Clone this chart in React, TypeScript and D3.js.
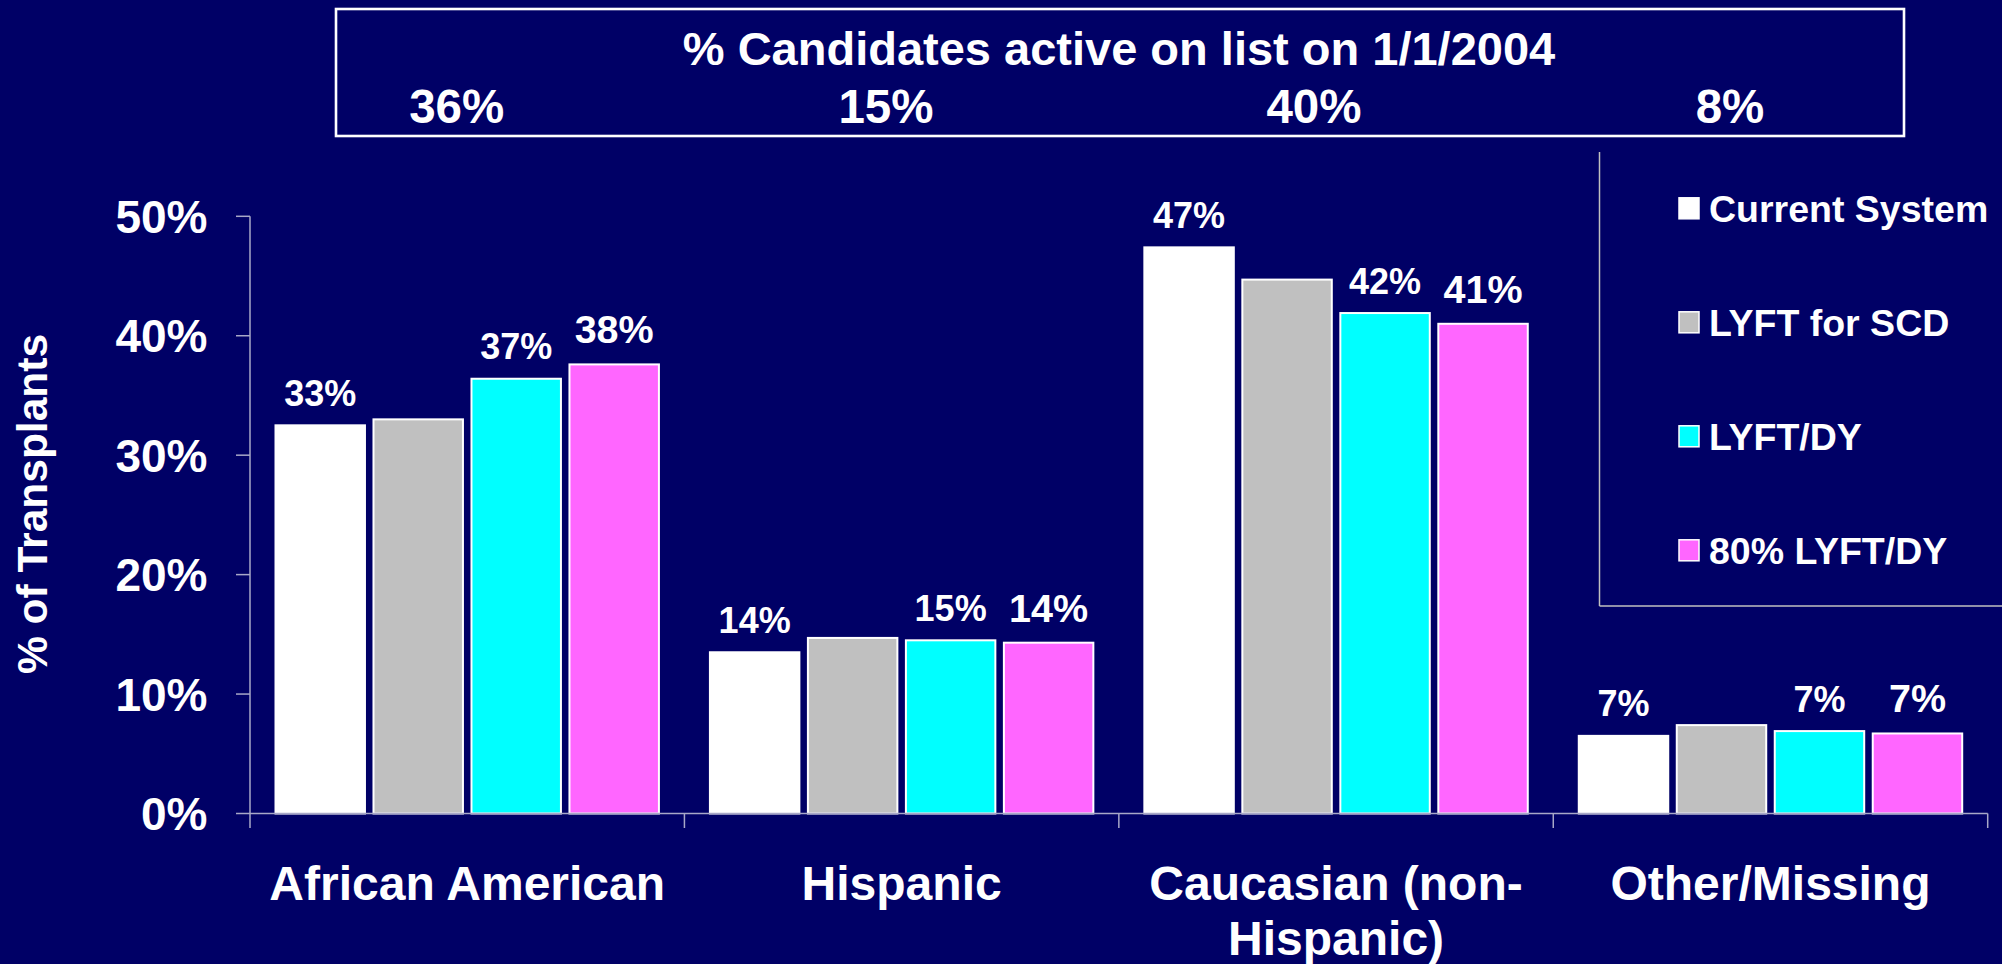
import React from "react";
import * as d3 from "d3";

const categories = ["African American", "Hispanic", "Caucasian (non-Hispanic)", "Other/Missing"];
const categoryLines = [["African American"], ["Hispanic"], ["Caucasian (non-", "Hispanic)"], ["Other/Missing"]];
const seriesNames = ["Current System", "LYFT for SCD", "LYFT/DY", "80% LYFT/DY"];
const seriesColors = ["#FFFFFF", "#C0C0C0", "#00FFFF", "#FF66FF"];

const currentSystem = [32.5, 13.5, 47.4, 6.5];
const lyftForScd = [33.0, 14.7, 44.7, 7.4];
const lyftDy = [36.4, 14.5, 41.9, 6.9];
const lyft80Dy = [37.6, 14.3, 41.0, 6.7];

const labelsCurrent = ["33%", "14%", "47%", "7%"];
const labelsScd: (string | null)[] = [null, null, null, null];
const labelsDy = ["37%", "15%", "42%", "7%"];
const labels80 = ["38%", "14%", "41%", "7%"];

const activeOnList = ["36%", "15%", "40%", "8%"];
const yTicks = [0, 10, 20, 30, 40, 50];

const seriesValues = [currentSystem, lyftForScd, lyftDy, lyft80Dy];
const seriesLabels = [labelsCurrent, labelsScd, labelsDy, labels80];

const W = 2002;
const H = 964;
const BG = "#000066";
const FONT = "'Liberation Sans', Arial, Helvetica, sans-serif";
const AXIS = "#A8A8C8";

export default function App() {
  const x0 = d3.scaleBand<string>().domain(categories).range([250, 1987.7]).padding(0);
  const bw = x0.bandwidth();
  const x1 = d3
    .scaleBand<string>()
    .domain(seriesNames)
    .range([25.5, bw - 25.5])
    .paddingInner(0.087)
    .paddingOuter(0);
  const y = d3.scaleLinear().domain([0, 50]).range([813.5, 216.3]);
  const y0 = y(0);

  const activeX = [456.7, 886, 1314, 1730];

  return (
    <svg
      width={W}
      height={H}
      style={{ position: "fixed", left: 0, top: 0, display: "block" }}
      fontFamily={FONT}
      fontWeight="bold"
    >
      <rect x={0} y={0} width={W} height={H} fill={BG} />

      {/* top box */}
      <rect x={336} y={9} width={1568} height={127} fill="none" stroke="#FFFFFF" strokeWidth={2.6} />
      <text x={1119} y={65} fill="#FFFFFF" fontSize={47} textAnchor="middle">
        % Candidates active on list on 1/1/2004
      </text>
      {activeOnList.map((t, i) => (
        <text key={t + i} x={activeX[i]} y={122.7} fill="#FFFFFF" fontSize={47.5} textAnchor="middle">
          {t}
        </text>
      ))}

      {/* legend box */}
      <line x1={1599.5} x2={1599.5} y1={152} y2={606} stroke="#C0C0C0" strokeWidth={1.5} />
      <line x1={1599.5} x2={W} y1={606} y2={606} stroke="#C0C0C0" strokeWidth={1.5} />
      {seriesNames.map((s, i) => {
        const cy = 208.3 + i * 114;
        return (
          <g key={s}>
            <rect x={1679} y={cy - 10.5} width={20} height={21} fill={seriesColors[i]} stroke="#FFFFFF" strokeWidth={1.5} />
            <text x={1709} y={cy + 13.7} fill="#FFFFFF" fontSize={37.5}>
              {s}
            </text>
          </g>
        );
      })}

      {/* y axis */}
      <line x1={250} x2={250} y1={y(50)} y2={828} stroke={AXIS} strokeWidth={1.5} />
      {yTicks.map((t) => (
        <g key={t}>
          <line x1={236} x2={250} y1={y(t)} y2={y(t)} stroke={AXIS} strokeWidth={1.5} />
          <text x={207.5} y={y(t) + 16.5} fill="#FFFFFF" fontSize={46} textAnchor="end">
            {t + "%"}
          </text>
        </g>
      ))}
      <text
        transform="translate(47,504) rotate(-90)"
        fill="#FFFFFF"
        fontSize={42.5}
        textAnchor="middle"
      >
        % of Transplants
      </text>

      {/* bars */}
      {categories.map((c, ci) => (
        <g key={c} transform={`translate(${x0(c)},0)`}>
          {seriesNames.map((s, si) => {
            const v = seriesValues[si][ci];
            const bx = x1(s) as number;
            const top = y(v);
            const lbl = seriesLabels[si][ci];
            return (
              <g key={s}>
                <rect
                  x={bx}
                  y={top}
                  width={x1.bandwidth()}
                  height={y0 - top}
                  fill={seriesColors[si]}
                  stroke="#FFFFFF"
                  strokeWidth={2}
                />
                {lbl && (
                  <text
                    x={bx + x1.bandwidth() / 2}
                    y={top - (si === 3 ? 21 : 19.5)}
                    fill="#FFFFFF"
                    fontSize={si === 3 ? 39.5 : 36}
                    textAnchor="middle"
                  >
                    {lbl}
                  </text>
                )}
              </g>
            );
          })}
        </g>
      ))}

      {/* x axis */}
      <line x1={250} x2={1987.7} y1={y0} y2={y0} stroke={AXIS} strokeWidth={1.5} />
      {categories.map((c) => (
        <line
          key={"t" + c}
          x1={(x0(c) as number) + bw}
          x2={(x0(c) as number) + bw}
          y1={y0}
          y2={828}
          stroke={AXIS}
          strokeWidth={1.5}
        />
      ))}
      {categories.map((c, ci) => (
        <text key={"l" + c} x={(x0(c) as number) + bw / 2} y={900} fill="#FFFFFF" fontSize={48} textAnchor="middle">
          {categoryLines[ci].map((ln, li) => (
            <tspan key={li} x={(x0(c) as number) + bw / 2} y={900 + li * 55}>
              {ln}
            </tspan>
          ))}
        </text>
      ))}
    </svg>
  );
}
